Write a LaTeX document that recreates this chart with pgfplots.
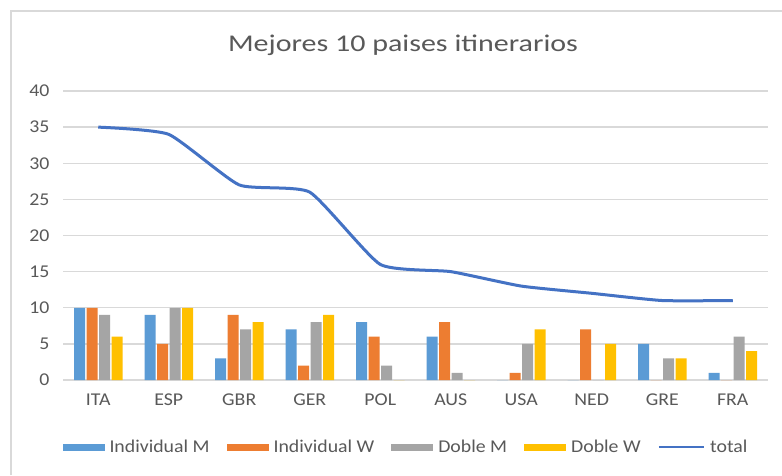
\documentclass[border=0pt]{standalone}
\usepackage{pgfplots}
\pgfplotsset{compat=1.18}
\usepackage{fontspec}
\setmainfont{Carlito}[FakeStretch=1.1]
\newfontfamily\titlefont{Carlito}[FakeStretch=1.25]

\definecolor{cIM}{HTML}{5B9BD5}
\definecolor{cIW}{HTML}{ED7D31}
\definecolor{cDM}{HTML}{A5A5A5}
\definecolor{cDW}{HTML}{FFC000}
\definecolor{cTot}{HTML}{4472C4}
\definecolor{txt}{HTML}{595959}
\definecolor{grd}{HTML}{D9D9D9}

\begin{document}
\begin{tikzpicture}
\useasboundingbox (0,0) rectangle (782pt,475pt);
\fill[white] (0,0) rectangle (782pt,475pt);
% chart frame
\draw[grd, line width=1.5pt] (11pt,0pt) -- (11pt,464pt) -- (782pt,464pt);

\node[text=txt, font=\titlefont\fontsize{24}{28}\selectfont] at (403pt,430pt) {Mejores 10 paises itinerarios};

\begin{axis}[
    at={(63pt,95pt)}, anchor=south west,
    scale only axis,
    width=705pt, height=289pt,
    xmin=-0.5, xmax=9.5,
    ymin=0, ymax=40,
    ytick={0,5,...,40},
    xtick={0,...,9},
    xticklabels={ITA,ESP,GBR,GER,POL,AUS,USA,NED,GRE,FRA},
    axis line style={draw=none},
    major tick length=0pt,
    ymajorgrids=true,
    grid style={grd, line width=1.3pt},
    tick label style={text=txt, font=\fontsize{18}{20}\selectfont},
    /pgf/number format/assume math mode=true,
    yticklabel style={xshift=-10pt},
    xticklabel style={yshift=-10pt},
    legend columns=5,
    legend style={
        at={(0.4865,-0.232)}, anchor=center,
        draw=none, fill=none,
        text=txt, font=\fontsize{18}{20}\selectfont,
        /tikz/every odd column/.append style={column sep=3pt},
        /tikz/every even column/.append style={column sep=15pt},
        nodes={inner sep=2pt},
    },
    legend cell align=left,
]
\addplot[ybar, bar width=11pt, bar shift=-18.75pt, fill=cIM, draw=none,
    legend image code/.code={\fill[cIM] (0pt,-3.5pt) rectangle (42pt,3.5pt);}]
    coordinates {(0,10) (1,9) (2,3) (3,7) (4,8) (5,6) (6,0) (7,0) (8,5) (9,1)};
\addplot[ybar, bar width=11pt, bar shift=-6.25pt, fill=cIW, draw=none,
    legend image code/.code={\fill[cIW] (0pt,-3.5pt) rectangle (42pt,3.5pt);}]
    coordinates {(0,10) (1,5) (2,9) (3,2) (4,6) (5,8) (6,1) (7,7) (8,0) (9,0)};
\addplot[ybar, bar width=11pt, bar shift=6.25pt, fill=cDM, draw=none,
    legend image code/.code={\fill[cDM] (0pt,-3.5pt) rectangle (42pt,3.5pt);}]
    coordinates {(0,9) (1,10) (2,7) (3,8) (4,2) (5,1) (6,5) (7,0) (8,3) (9,6)};
\addplot[ybar, bar width=11pt, bar shift=18.75pt, fill=cDW, draw=none,
    legend image code/.code={\fill[cDW] (0pt,-3.5pt) rectangle (42pt,3.5pt);}]
    coordinates {(0,6) (1,10) (2,8) (3,9) (4,0) (5,0) (6,7) (7,5) (8,3) (9,4)};
\addplot[cTot, line width=3pt, smooth, tension=0.3, mark=none,
    legend image code/.code={\draw[cTot, line width=2.5pt] (0pt,0pt) -- (45pt,0pt);}]
    coordinates {(0,35) (1,34) (2,27) (3,26) (4,16) (5,15) (6,13) (7,12) (8,11) (9,11)};
\legend{Individual M,Individual W,Doble M,Doble W,total}
\end{axis}
\end{tikzpicture}
\end{document}
